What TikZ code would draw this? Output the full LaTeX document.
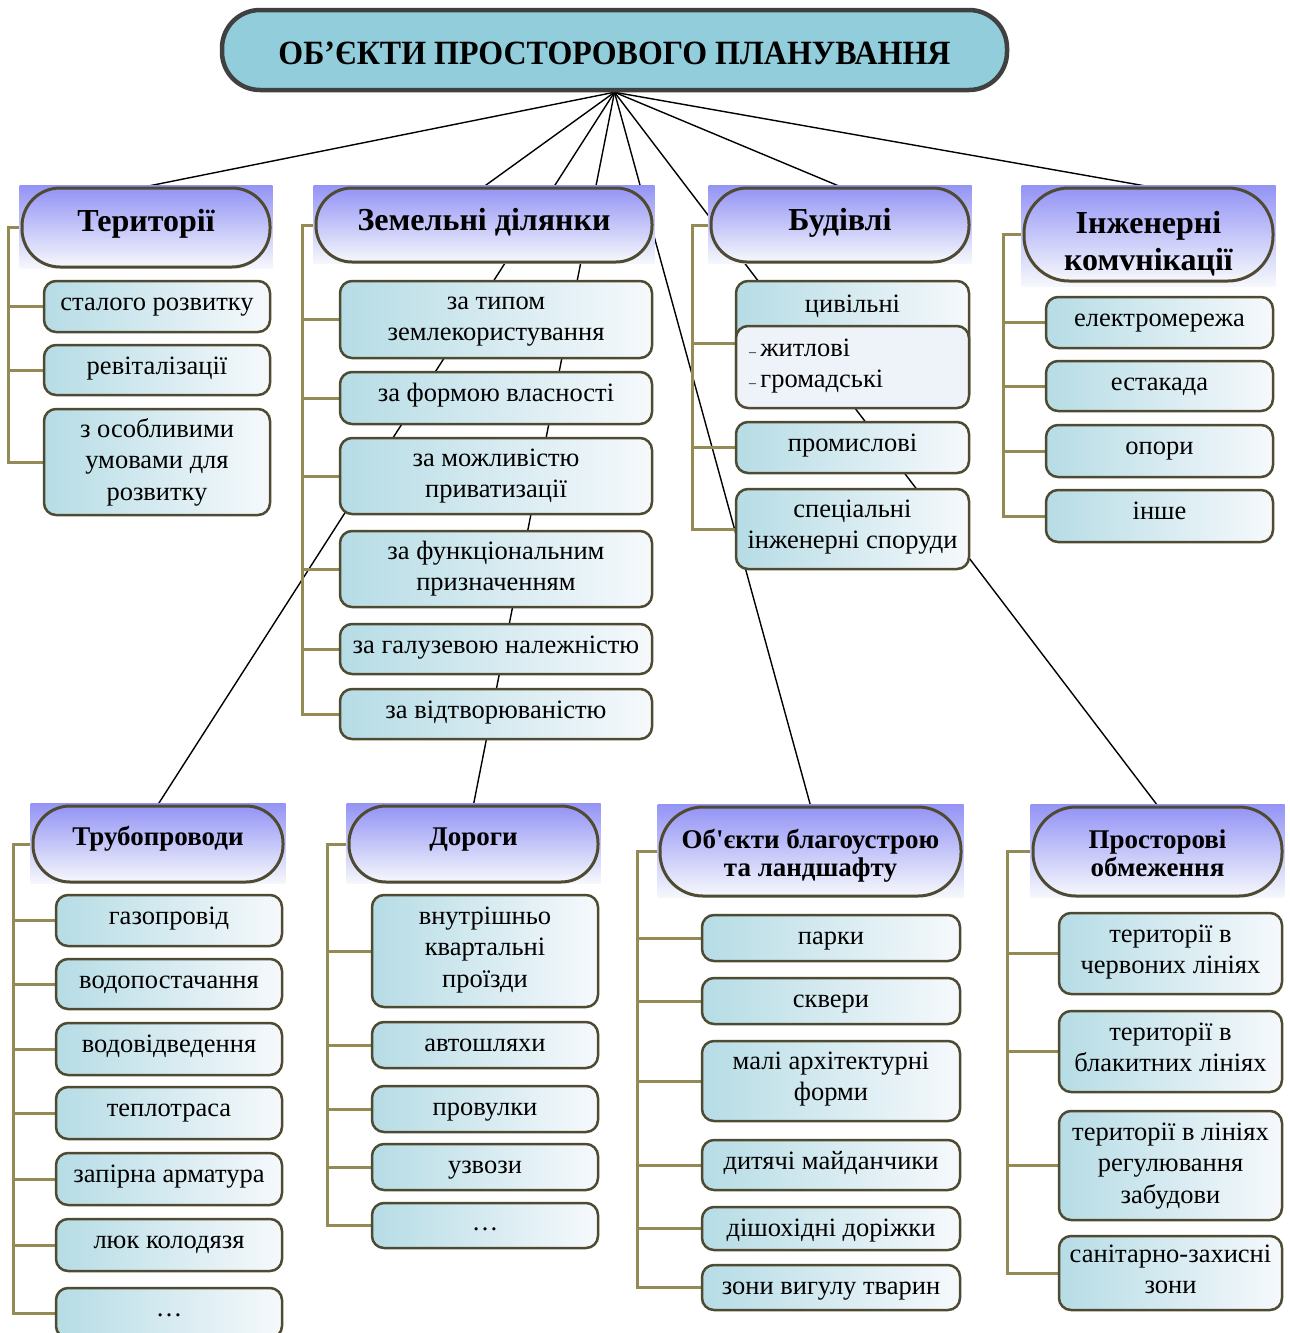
\documentclass[tikz,border=0pt]{standalone}
\usepackage{fontspec}
\setmainfont{Liberation Serif}
\newfontfamily\srf{Liberation Serif}
\usepackage{graphicx}
\pgfdeclarelayer{lines}
\pgfdeclarelayer{hdrbg}
\pgfsetlayers{lines,hdrbg,main}
\definecolor{itemL}{HTML}{B6DCE5}
\definecolor{itemR}{HTML}{F6F9FC}
\definecolor{hdrT}{HTML}{9494F5}
\definecolor{hdrB}{HTML}{F6F8FC}
\definecolor{bord}{HTML}{4F4A32}
\definecolor{brkc}{HTML}{948A54}
\definecolor{ttlfill}{HTML}{92CDDC}
\definecolor{ttlbord}{HTML}{404040}
\definecolor{subfill}{HTML}{EEF3FA}
\tikzset{
  item/.style={draw=bord, line width=2.5pt, rounded corners=12pt, left color=itemL, right color=itemR, inner sep=0pt, align=center, font=\srf\fontsize{26.5}{31.5}\selectfont},
  subitem/.style={draw=bord, line width=2.5pt, rounded corners=12pt, fill=subfill, inner sep=0pt, align=left, font=\srf\fontsize{26.5}{31.5}\selectfont},
  hdr/.style={draw=bord, line width=3pt, top color=hdrT, bottom color=hdrB, inner sep=0pt, align=center, font=\srf\bfseries\fontsize{32}{37.5}\selectfont},
  hdrs/.style={hdr, font=\srf\bfseries\fontsize{27}{28.5}\selectfont},
  hbg/.style={top color=hdrT, bottom color=hdrB, draw=none},
  ttl/.style={draw=ttlbord, line width=4.5pt, fill=ttlfill, rounded corners=38pt, inner sep=0pt, font=\srf\bfseries\fontsize{34}{40}\selectfont},
  conn/.style={draw=black, line width=1.4pt},
  brk/.style={draw=brkc, line width=3pt}
}
\begin{document}
\begin{tikzpicture}[x=1pt,y=-1pt]
\useasboundingbox (0,0) rectangle (1290,1333);
% title
\node[ttl, minimum width=785pt, minimum height=80pt, text height=54pt, text depth=26pt] (title) at (614.5,50) {\resizebox{672pt}{\height}{ОБ’ЄКТИ ПРОСТОРОВОГО ПЛАНУВАННЯ}};

% headers top row
\node[hdr, minimum width=248pt, minimum height=79pt, text height=43.5pt, text depth=35.5pt, rounded corners=38pt] (hT) at (146,227.5) {Території};
\node[hdr, minimum width=336pt, minimum height=74pt, text height=42.5pt, text depth=31.5pt, rounded corners=36pt] (hZ) at (484,225) {Земельні ділянки};
\node[hdr, minimum width=258pt, minimum height=74pt, text height=42.5pt, text depth=31.5pt, rounded corners=36pt] (hB) at (840,225) {Будівлі};
\node[hdr, minimum width=249pt, minimum height=93pt, text height=82.5pt, text depth=10.5pt, rounded corners=45pt] (hI) at (1148.5,234.5) {Інженерні\\комvнікації};
% headers bottom row
\node[hdrs, minimum width=250pt, minimum height=76pt, text height=39pt, text depth=37pt, rounded corners=37pt] (hP) at (158,844) {Трубопроводи};
\node[hdrs, minimum width=249pt, minimum height=76pt, text height=39pt, text depth=37pt, rounded corners=37pt] (hD) at (473.5,844) {Дороги};
\node[hdrs, minimum width=301pt, minimum height=89pt, text height=69.5pt, text depth=19.5pt, rounded corners=43pt] (hO) at (810.5,851.5) {Об'єкти благоустрою\\та ландшафту};
\node[hdrs, minimum width=249pt, minimum height=89pt, text height=69.5pt, text depth=19.5pt, rounded corners=43pt] (hS) at (1157.5,851.5) {Просторові\\обмеження};

% Території
\node[item, minimum width=226pt, minimum height=51pt, text height=29.5pt, text depth=21.5pt] (t1) at (157,306.5) {сталого розвитку};
\node[item, minimum width=226pt, minimum height=50pt, text height=29.5pt, text depth=20.5pt] (t2) at (157,370) {ревіталізації};
\node[item, minimum width=226pt, minimum height=106pt, text height=91pt, text depth=15pt] (t3) at (157,462) {з особливими\\умовами для\\розвитку};

% Земельні ділянки
\node[item, minimum width=312pt, minimum height=77pt, text height=59.5pt, text depth=17.5pt] (z1) at (496,319.5) {за типом\\землекористування};
\node[item, minimum width=312pt, minimum height=52pt, text height=29.5pt, text depth=22.5pt] (z2) at (496,398) {за формою власності};
\node[item, minimum width=312pt, minimum height=76pt, text height=59.5pt, text depth=16.5pt] (z3) at (496,476) {за можливістю\\приватизації};
\node[item, minimum width=312pt, minimum height=76pt, text height=59.5pt, text depth=16.5pt] (z4) at (496,569) {за функціональним\\призначенням};
\node[item, minimum width=312pt, minimum height=50pt, text height=29.5pt, text depth=20.5pt] (z5) at (496,649) {за галузевою належністю};
\node[item, minimum width=312pt, minimum height=50pt, text height=29.5pt, text depth=20.5pt] (z6) at (496,714) {за відтворюваністю};

% Будівлі
\node[item, minimum width=233pt, minimum height=125pt] (b1) at (852.5,343.5) {};
\node[font=\srf\fontsize{26.5}{31.5}\selectfont, inner sep=0pt, anchor=base] (b1t) at (852.5,312) {цивільні};
\node[subitem, minimum width=233pt, minimum height=82pt, text width=207pt, text height=30pt, text depth=52pt] (b1s) at (852.5,367) {{\fontsize{14}{14}\selectfont –}\,житлові\\{\fontsize{14}{14}\selectfont –}\,громадські};
\node[item, minimum width=233pt, minimum height=51pt, text height=29.5pt, text depth=21.5pt] (b2) at (852.5,447.5) {промислові};
\node[item, minimum width=233pt, minimum height=80pt, text height=59.5pt, text depth=20.5pt] (b3) at (852.5,529) {спеціальні\\інженерні споруди};

% Інженерні комунікації
\node[item, minimum width=227pt, minimum height=51pt, text height=29.5pt, text depth=21.5pt] (i1) at (1159.5,322.5) {електромережа};
\node[item, minimum width=227pt, minimum height=50pt, text height=29.5pt, text depth=20.5pt] (i2) at (1159.5,386) {естакада};
\node[item, minimum width=227pt, minimum height=52pt, text height=29.5pt, text depth=22.5pt] (i3) at (1159.5,451) {опори};
\node[item, minimum width=227pt, minimum height=52pt, text height=29.5pt, text depth=22.5pt] (i4) at (1159.5,516) {інше};

% Трубопроводи
\node[item, minimum width=226pt, minimum height=51pt, text height=29.5pt, text depth=21.5pt] (p1) at (169,920.5) {газопровід};
\node[item, minimum width=226pt, minimum height=50pt, text height=29.5pt, text depth=20.5pt] (p2) at (169,984) {водопостачання};
\node[item, minimum width=226pt, minimum height=52pt, text height=29.5pt, text depth=22.5pt] (p3) at (169,1049) {водовідведення};
\node[item, minimum width=226pt, minimum height=52pt, text height=29.5pt, text depth=22.5pt] (p4) at (169,1113) {теплотраса};
\node[item, minimum width=226pt, minimum height=52pt, text height=29.5pt, text depth=22.5pt] (p5) at (169,1179) {запірна арматура};
\node[item, minimum width=226pt, minimum height=52pt, text height=29.5pt, text depth=22.5pt] (p6) at (169,1245) {люк колодязя};
\node[item, minimum width=226pt, minimum height=50pt, text height=28pt, text depth=22pt] (p7) at (169,1313) {…};

% Дороги
\node[item, minimum width=226pt, minimum height=112pt, text height=92pt, text depth=20pt] (d1) at (485,951) {внутрішньо\\квартальні\\проїзди};
\node[item, minimum width=226pt, minimum height=46pt, text height=29.5pt, text depth=16.5pt] (d2) at (485,1045) {автошляхи};
\node[item, minimum width=226pt, minimum height=46pt, text height=29.5pt, text depth=16.5pt] (d3) at (485,1109) {провулки};
\node[item, minimum width=226pt, minimum height=46pt, text height=29.5pt, text depth=16.5pt] (d4) at (485,1167) {узвози};
\node[item, minimum width=226pt, minimum height=45pt, text height=27pt, text depth=18pt] (d5) at (485,1225.5) {…};

% Об'єкти благоустрою
\node[item, minimum width=258pt, minimum height=46pt, text height=29.5pt, text depth=16.5pt] (o1) at (831,938) {парки};
\node[item, minimum width=258pt, minimum height=46pt, text height=29.5pt, text depth=16.5pt] (o2) at (831,1001) {сквери};
\node[item, minimum width=258pt, minimum height=80pt, text height=59.5pt, text depth=20.5pt] (o3) at (831,1081) {малі архітектурні\\форми};
\node[item, minimum width=258pt, minimum height=50pt, text height=29.5pt, text depth=20.5pt] (o4) at (831,1165) {дитячі майданчики};
\node[item, minimum width=258pt, minimum height=43pt, text height=29.5pt, text depth=13.5pt] (o5) at (831,1228.5) {дішохідні доріжки};
\node[item, minimum width=258pt, minimum height=45pt, text height=29.5pt, text depth=15.5pt] (o6) at (831,1287.5) {зони вигулу тварин};

% Просторові обмеження
\node[item, minimum width=223pt, minimum height=81pt, text height=60.5pt, text depth=20.5pt] (s1) at (1170.5,953.5) {території в\\червоних лініях};
\node[item, minimum width=223pt, minimum height=81pt, text height=60.5pt, text depth=20.5pt] (s2) at (1170.5,1051.5) {території в\\блакитних лініях};
\node[item, minimum width=223pt, minimum height=109pt, text height=92pt, text depth=17pt] (s3) at (1170.5,1165.5) {території в лініях\\регулювання\\забудови};
\node[item, minimum width=223pt, minimum height=74pt, text height=57.5pt, text depth=16.5pt] (s4) at (1170.5,1273) {санітарно-захисні\\зони};

% header background rectangles
\begin{pgfonlayer}{hdrbg}
\foreach \h in {hT,hZ,hB,hP,hD,hO,hS}{
  \path[hbg] ([xshift=-1pt,yshift=1pt]\h.north west) rectangle ([xshift=1pt]\h.south east);
}
\path[hbg] ([xshift=-1pt,yshift=1pt]hI.north west) rectangle ([xshift=1pt,yshift=-4pt]hI.south east);
\end{pgfonlayer}

% connectors and brackets
\begin{pgfonlayer}{lines}
\foreach \h in {hT,hZ,hB,hI,hP,hD,hO,hS}{
  \draw[conn] (title.south) -- (\h.north);
}
\coordinate (xT) at (8,0);
\coordinate (xZ) at (302,0);
\coordinate (xB) at (692,0);
\coordinate (xI) at (1003,0);
\coordinate (xP) at (13,0);
\coordinate (xD) at (327,0);
\coordinate (xO) at (637,0);
\coordinate (xS) at (1007,0);
\draw[brk] (hT.west) -- (hT.west -| xT) -- (t3.west -| xT) -- (t3.west);
\foreach \n in {t1,t2}{\draw[brk] (\n.west -| xT) -- (\n.west);}
\draw[brk] (hZ.west) -- (hZ.west -| xZ) -- (z6.west -| xZ) -- (z6.west);
\foreach \n in {z1,z2,z3,z4,z5}{\draw[brk] (\n.west -| xZ) -- (\n.west);}
\draw[brk] (hB.west) -- (hB.west -| xB) -- (b3.west -| xB) -- (b3.west);
\foreach \n in {b1,b2}{\draw[brk] (\n.west -| xB) -- (\n.west);}
\draw[brk] (hI.west) -- (hI.west -| xI) -- (i4.west -| xI) -- (i4.west);
\foreach \n in {i1,i2,i3}{\draw[brk] (\n.west -| xI) -- (\n.west);}
\draw[brk] (hP.west) -- (hP.west -| xP) -- (p7.west -| xP) -- (p7.west);
\foreach \n in {p1,p2,p3,p4,p5,p6}{\draw[brk] (\n.west -| xP) -- (\n.west);}
\draw[brk] (hD.west) -- (hD.west -| xD) -- (d5.west -| xD) -- (d5.west);
\foreach \n in {d1,d2,d3,d4}{\draw[brk] (\n.west -| xD) -- (\n.west);}
\draw[brk] (hO.west) -- (hO.west -| xO) -- (o6.west -| xO) -- (o6.west);
\foreach \n in {o1,o2,o3,o4,o5}{\draw[brk] (\n.west -| xO) -- (\n.west);}
\draw[brk] (hS.west) -- (hS.west -| xS) -- (s4.west -| xS) -- (s4.west);
\foreach \n in {s1,s2,s3}{\draw[brk] (\n.west -| xS) -- (\n.west);}
\end{pgfonlayer}
\end{tikzpicture}
\end{document}
